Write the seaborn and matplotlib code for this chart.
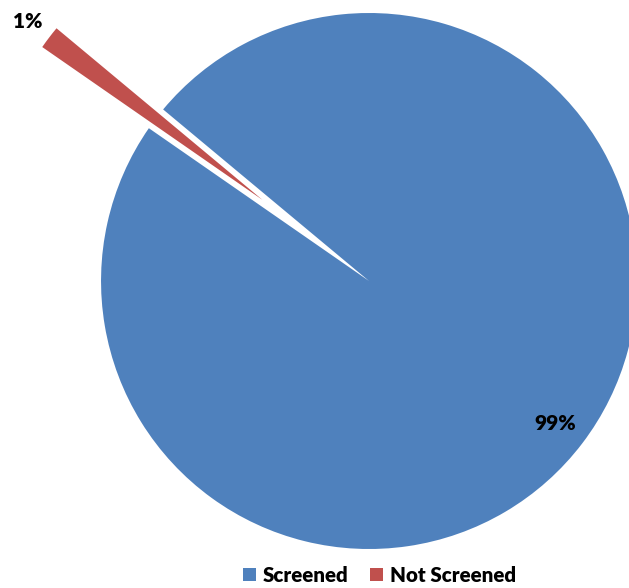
import numpy as np
import matplotlib
matplotlib.use("Agg")
import matplotlib.pyplot as plt
import seaborn as sns

# Screening status shares (percent)
categories = ["Screened", "Not Screened"]
shares = [98.6, 1.4]
colors = ["#4F81BD", "#C0504D"]

sns.set_theme(style="white")
plt.rcParams["font.family"] = ["Lato", "DejaVu Sans"]

fig = plt.figure(figsize=(6.29, 5.88), dpi=100)
ax = fig.add_axes([0, 0, 1, 1])

palette = sns.color_palette(colors)
wedges, _ = ax.pie(
    shares,
    colors=palette,
    startangle=140.2,
    counterclock=False,
    explode=(0, 0.5),
    radius=1.0,
    wedgeprops=dict(linewidth=0),
)

# value labels: inside for the large slice, outside for the pulled-out one
label_dist = [0.875, 1.1]
for w, val, d in zip(wedges, shares, label_dist):
    mid = np.deg2rad((w.theta1 + w.theta2) / 2)
    cx, cy = w.center
    ax.text(cx + d * w.r * np.cos(mid), cy + d * w.r * np.sin(mid),
            f"{val:.0f}%", ha="center", va="center",
            fontsize=15, fontweight="heavy", color="black")

ax.set_aspect("equal")
ax.set_xlim(-1.377, 0.970)
ax.set_ylim(-1.1455, 1.0485)
ax.axis("off")

fig.legend(wedges, categories, loc="center", bbox_to_anchor=(0.6035, 0.022),
           ncol=2, frameon=False, handlelength=0.6, handleheight=0.6,
           handletextpad=0.35, columnspacing=1.05, labelcolor="black",
           prop=dict(family=["Lato", "DejaVu Sans"], weight="heavy", size=14.8))

fig.savefig("out.png", dpi=100)
